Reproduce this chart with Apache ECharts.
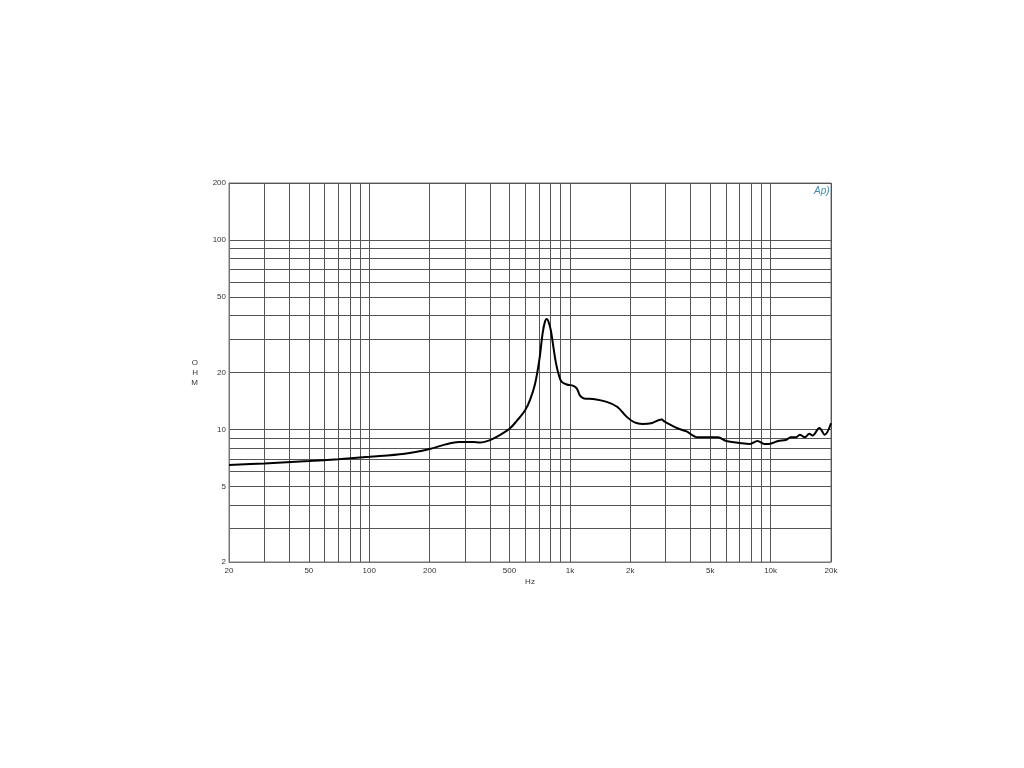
<!DOCTYPE html>
<html><head><meta charset="utf-8">
<script src="https://cdn.jsdelivr.net/npm/echarts@6/dist/echarts.min.js"></script>
<style>html,body{margin:0;padding:0;background:#fff}#c{width:1024px;height:768px}</style>
</head><body><div id="c"></div>
<script>
// Frequency (Hz) and impedance (ohm)
const freqs = [20,30,50,70,100,150,200,240,280,330,357,400,447,500,543,597,632,670,704,731,751,766,780,803,827,852,879,908,964,1040,1081,1123,1175,1307,1525,1719,1914,2100,2300,2540,2860,2970,3480,3790,4340,4870,5460,6000,7000,7900,8600,9300,9800,10900,11900,12600,13400,14000,14800,15600,16200,17500,18600,20000];
const ohms  = [6.5,6.62,6.82,6.98,7.18,7.45,7.9,8.35,8.6,8.6,8.55,8.8,9.35,10.1,11.1,12.6,14.3,17.4,23.3,32.2,37.1,38.3,37.4,33.4,27.3,22.4,19.5,17.9,17.3,17.0,16.5,15.1,14.6,14.5,14.0,13.2,11.7,10.9,10.7,10.8,11.3,11.0,10.1,9.8,9.1,9.1,9.1,8.7,8.5,8.4,8.7,8.4,8.4,8.7,8.8,9.1,9.1,9.4,9.1,9.5,9.3,10.2,9.4,10.8];
const xGrid = [20,30,40,50,60,70,80,90,100,200,300,400,500,600,700,800,900,1000,2000,3000,4000,5000,6000,7000,8000,9000,10000,20000];
const xLabels = [20,50,100,200,500,1000,2000,5000,10000,20000];
const yGrid = [2,3,4,5,6,7,8,9,10,20,30,40,50,60,70,80,90,100,200];
const yLabels = [2,5,10,20,50,100,200];

const L = Math.log10;
const fmtX = v => { const n = Math.round(Math.pow(10, v)); return n >= 1000 ? (n/1000) + 'k' : String(n); };
const fmtY = v => String(Math.round(Math.pow(10, v)));
const chart = echarts.init(document.getElementById('c'));
const lbl = {fontFamily:'Liberation Sans, Arial, sans-serif', fontSize:8, color:'#333'};
chart.setOption({
  animation:false,
  backgroundColor:'#fff',
  grid:{left:229, top:183, right:193, bottom:206, show:true, borderColor:'#777', borderWidth:1},
  xAxis:{type:'value', min:L(20), max:L(20000),
    name:'Hz', nameLocation:'middle', nameGap:16, nameTextStyle:lbl,
    axisLine:{show:true, lineStyle:{color:'#777'}},
    axisTick:{show:false, customValues:xGrid.map(L)},
    axisLabel:Object.assign({customValues:xLabels.map(L), formatter:fmtX, margin:5}, lbl),
    splitLine:{show:true, lineStyle:{color:'#555', width:1}}},
  yAxis:{type:'value', min:L(2), max:L(200),
    name:'O\nH\nM', nameLocation:'middle', nameGap:31, nameRotate:0, nameTextStyle:Object.assign({lineHeight:10}, lbl),
    axisLine:{show:true, lineStyle:{color:'#777'}},
    axisTick:{show:false, customValues:yGrid.map(L)},
    axisLabel:Object.assign({customValues:yLabels.map(L), formatter:fmtY, margin:3}, lbl),
    splitLine:{show:true, lineStyle:{color:'#555', width:1}}},
  graphic:[{type:'text', left:814, top:186, style:{text:'Ap)', font:'italic 10px Liberation Sans, Arial', fill:'#3a8fb0'}}],
  series:[{type:'line', data:freqs.map((f,i)=>[L(f), L(ohms[i])]), smooth:0.35, showSymbol:false,
    lineStyle:{color:'#000', width:2}}]
});
</script></body></html>
